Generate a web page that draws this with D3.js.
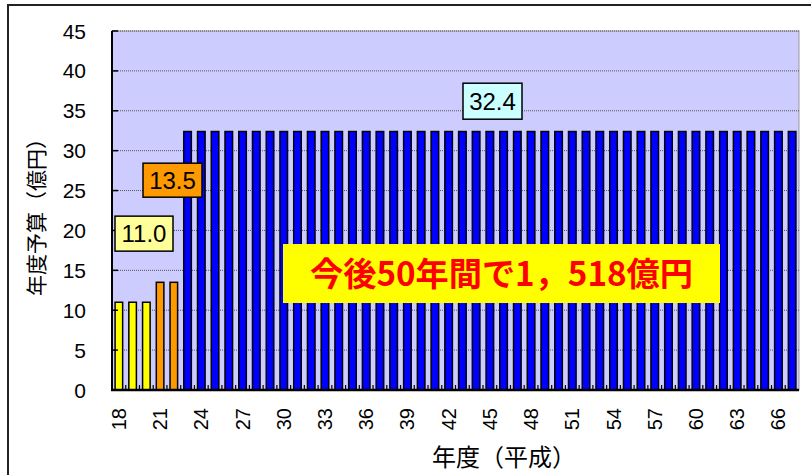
<!DOCTYPE html>
<html lang="ja">
<head>
<meta charset="utf-8">
<script src="https://cdn.jsdelivr.net/npm/d3@7"></script>
<style>
  html, body { margin: 0; padding: 0; background: #fff; }
  svg { display: block; }
  .num { font-family: "Liberation Sans", Arial, sans-serif; }
  .jp { font-family: "Noto Sans CJK JP", sans-serif; }
</style>
</head>
<body>
<svg id="chart" width="811" height="475"></svg>
<script>
// 年度（平成18〜67年度）
const years = d3.range(18, 68);
// 年度予算（億円）
const budget = [
  11.0, 11.0, 11.0,
  13.5, 13.5,
  32.4, 32.4, 32.4, 32.4, 32.4, 32.4, 32.4, 32.4, 32.4, 32.4,
  32.4, 32.4, 32.4, 32.4, 32.4, 32.4, 32.4, 32.4, 32.4, 32.4,
  32.4, 32.4, 32.4, 32.4, 32.4, 32.4, 32.4, 32.4, 32.4, 32.4,
  32.4, 32.4, 32.4, 32.4, 32.4, 32.4, 32.4, 32.4, 32.4, 32.4,
  32.4, 32.4, 32.4, 32.4, 32.4
];
const yTicks = [0, 5, 10, 15, 20, 25, 30, 35, 40, 45];
const xTickLabels = d3.range(18, 68, 3);
const groupLabels = ["11.0", "13.5", "32.4"];
const totalLabel = "今後50年間で1，518億円";

const svg = d3.select("#chart");
const plot = { left: 112, top: 31, right: 799, bottom: 390 };

function barColor(v) {
  if (v < 12) return "#FFFF00";
  if (v < 20) return "#FF9900";
  return "#0000FF";
}

// outer chart frame
svg.append("rect")
  .attr("x", 8).attr("y", 5).attr("width", 820).attr("height", 490)
  .attr("fill", "#fff").attr("stroke", "#222").attr("stroke-width", 2);

const x = d3.scaleBand().domain(years).range([plot.left, plot.right]).padding(0);
const y = d3.scaleLinear().domain([0, 45]).range([plot.bottom, plot.top]);

// plot background
svg.append("rect")
  .attr("x", plot.left).attr("y", plot.top)
  .attr("width", plot.right - plot.left).attr("height", plot.bottom - plot.top)
  .attr("fill", "#CCCCFF").attr("stroke", "#999").attr("stroke-width", 1);

// gridlines
svg.append("g").selectAll("line")
  .data(yTicks.filter(t => t > 0))
  .join("line")
  .attr("x1", plot.left).attr("x2", plot.right)
  .attr("y1", d => y(d)).attr("y2", d => y(d))
  .attr("stroke", "#555").attr("stroke-width", 1)
  .attr("stroke-dasharray", "1,1");

// bars
const barW = x.step() * 0.55;
svg.append("g").selectAll("rect")
  .data(years.map((yr, i) => ({ yr, v: budget[i] })))
  .join("rect")
  .attr("x", d => x(d.yr) + (x.step() - barW) / 2)
  .attr("y", d => y(d.v))
  .attr("width", barW)
  .attr("height", d => y(0) - y(d.v))
  .attr("fill", d => barColor(d.v))
  .attr("stroke", "#000").attr("stroke-width", 1.5);

// x axis: ticks between categories pointing into the plot
const xAxis = svg.append("g");
xAxis.selectAll("line.tick")
  .data(years.slice(1))
  .join("line")
  .attr("class", "tick")
  .attr("x1", d => x(d)).attr("x2", d => x(d))
  .attr("y1", plot.bottom).attr("y2", plot.bottom - 5)
  .attr("stroke", "#000").attr("stroke-width", 1.2);
xAxis.append("line")
  .attr("x1", plot.left - 1).attr("x2", plot.right)
  .attr("y1", plot.bottom).attr("y2", plot.bottom)
  .attr("stroke", "#000").attr("stroke-width", 2.5);
xAxis.selectAll("text")
  .data(xTickLabels)
  .join("text")
  .attr("class", "num")
  .attr("transform", d => `translate(${x(d) + x.step() / 2 + 7},${plot.bottom + 18}) rotate(-90)`)
  .attr("text-anchor", "end")
  .attr("font-size", 20)
  .attr("fill", "#000")
  .text(d => d);

// y axis
const yAxis = svg.append("g");
yAxis.append("line")
  .attr("x1", plot.left).attr("x2", plot.left)
  .attr("y1", plot.top).attr("y2", plot.bottom)
  .attr("stroke", "#000").attr("stroke-width", 2);
yAxis.selectAll("line.tick")
  .data(yTicks)
  .join("line")
  .attr("class", "tick")
  .attr("x1", plot.left).attr("x2", plot.left + 6)
  .attr("y1", d => y(d)).attr("y2", d => y(d))
  .attr("stroke", "#000").attr("stroke-width", 1.5);
yAxis.selectAll("text")
  .data(yTicks)
  .join("text")
  .attr("class", "num")
  .attr("x", 86)
  .attr("y", d => y(d) + 7.5)
  .attr("text-anchor", "end")
  .attr("font-size", 21)
  .attr("fill", "#000")
  .text(d => d);

// axis titles
svg.append("text")
  .attr("class", "jp")
  .attr("transform", "translate(44,212) rotate(-90)")
  .attr("text-anchor", "middle")
  .attr("font-size", 21)
  .text("年度予算（億円）");
svg.append("text")
  .attr("class", "jp")
  .attr("x", 504).attr("y", 466)
  .attr("text-anchor", "middle")
  .attr("font-size", 24)
  .text("年度（平成）");

// value labels for each budget group, placed in chart coordinates
const labelLayout = [
  { text: groupLabels[0], cx: 144, cv: 19.6, w: 58, h: 35, fill: "#FFFF99" },
  { text: groupLabels[1], cx: 172.5, cv: 26.3, w: 59, h: 34, fill: "#FF9900" },
  { text: groupLabels[2], cx: 492.5, cv: 36.2, w: 59, h: 36, fill: "#CCFFFF" }
];
const lg = svg.append("g").selectAll("g").data(labelLayout).join("g")
  .attr("transform", d => `translate(${d.cx},${y(d.cv)})`);
lg.append("rect")
  .attr("x", d => -d.w / 2).attr("y", d => -d.h / 2)
  .attr("width", d => d.w).attr("height", d => d.h)
  .attr("fill", d => d.fill).attr("stroke", "#000").attr("stroke-width", 1.5);
lg.append("text")
  .attr("class", "num")
  .attr("text-anchor", "middle")
  .attr("y", 8.5)
  .attr("font-size", 24)
  .attr("fill", "#000")
  .text(d => d.text);

// total budget callout
const tg = svg.append("g").attr("transform", `translate(501.5,${y(14.6)})`);
tg.append("rect")
  .attr("x", -218.5).attr("y", -29.5).attr("width", 437).attr("height", 59)
  .attr("fill", "#FFFF00");
tg.append("text")
  .attr("class", "jp")
  .attr("text-anchor", "middle")
  .attr("y", 12)
  .attr("font-size", 33)
  .attr("font-weight", "bold")
  .attr("fill", "#FF0000")
  .attr("textLength", 383)
  .attr("lengthAdjust", "spacingAndGlyphs")
  .text(totalLabel);
</script>
</body>
</html>
